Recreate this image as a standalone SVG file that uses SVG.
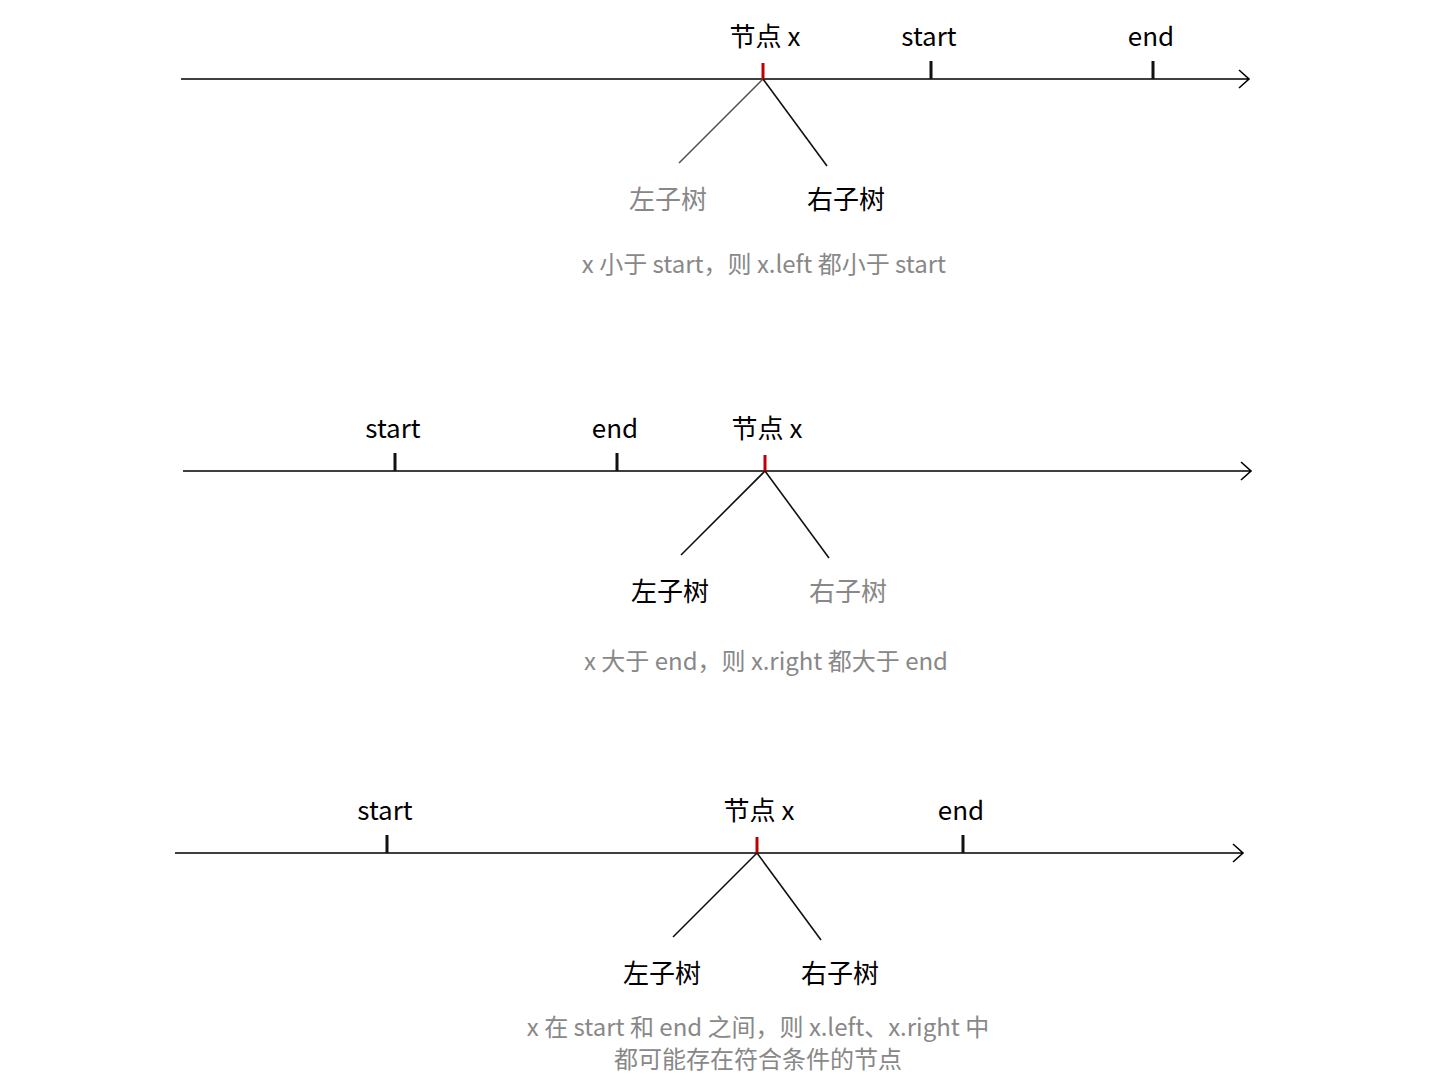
<svg xmlns="http://www.w3.org/2000/svg" width="1440" height="1092" viewBox="0 0 1440 1092">
<style>
.ax{stroke:#000;stroke-width:1.6;fill:none}
.tk{stroke:#111;stroke-width:3}
.rt{stroke:#c00000;stroke-width:3}
.br{stroke:#111;stroke-width:1.6}
.bg{stroke:#555;stroke-width:1.6}
text{font-family:"Noto Sans CJK SC","Noto Sans",sans-serif;font-size:26px;text-anchor:middle}
.g{fill:#888}
.c{font-size:24px;fill:#888}
</style>
<rect width="1440" height="1092" fill="#fff"/>
<g id="connectors">
<path class="ax" d="M181 79H1249M1239 70l10 9-10 9"/>
<line class="tk" x1="931" y1="61" x2="931" y2="79"/>
<line class="tk" x1="1153" y1="61" x2="1153" y2="79"/>
<line class="rt" x1="763" y1="63" x2="763" y2="79"/>
<line class="bg" x1="763" y1="79" x2="679" y2="163"/>
<line class="br" x1="763" y1="79" x2="827" y2="166"/>

<path class="ax" d="M183 471H1251M1241 462l10 9-10 9"/>
<line class="tk" x1="395" y1="453" x2="395" y2="471"/>
<line class="tk" x1="617" y1="453" x2="617" y2="471"/>
<line class="rt" x1="765" y1="455" x2="765" y2="471"/>
<line class="br" x1="765" y1="471" x2="681" y2="555"/>
<line class="br" x1="765" y1="471" x2="829" y2="558"/>

<path class="ax" d="M175 853H1243M1233 844l10 9-10 9"/>
<line class="tk" x1="387" y1="835" x2="387" y2="853"/>
<line class="tk" x1="963" y1="835" x2="963" y2="853"/>
<line class="rt" x1="757" y1="837" x2="757" y2="853"/>
<line class="br" x1="757" y1="853" x2="673" y2="937"/>
<line class="br" x1="757" y1="853" x2="821" y2="940"/>
</g>
<g id="panel1">
<text x="765" y="46">节点 x</text>
<text x="929" y="46">start</text>
<text x="1151" y="46">end</text>
<text x="668" y="209" class="g">左子树</text>
<text x="846" y="209">右子树</text>
<text x="764" y="273" class="c">x 小于 start，则 x.left 都小于 start</text>
</g>
<g id="panel2">
<text x="393" y="438">start</text>
<text x="615" y="438">end</text>
<text x="767" y="438">节点 x</text>
<text x="670" y="601">左子树</text>
<text x="848" y="601" class="g">右子树</text>
<text x="766" y="670" class="c">x 大于 end，则 x.right 都大于 end</text>
</g>
<g id="panel3">
<text x="385" y="820">start</text>
<text x="759" y="820">节点 x</text>
<text x="961" y="820">end</text>
<text x="662" y="983">左子树</text>
<text x="840" y="983">右子树</text>
<text x="758" y="1036" class="c">x 在 start 和 end 之间，则 x.left、x.right 中</text>
<text x="758" y="1068" class="c">都可能存在符合条件的节点</text>
</g>
</svg>
